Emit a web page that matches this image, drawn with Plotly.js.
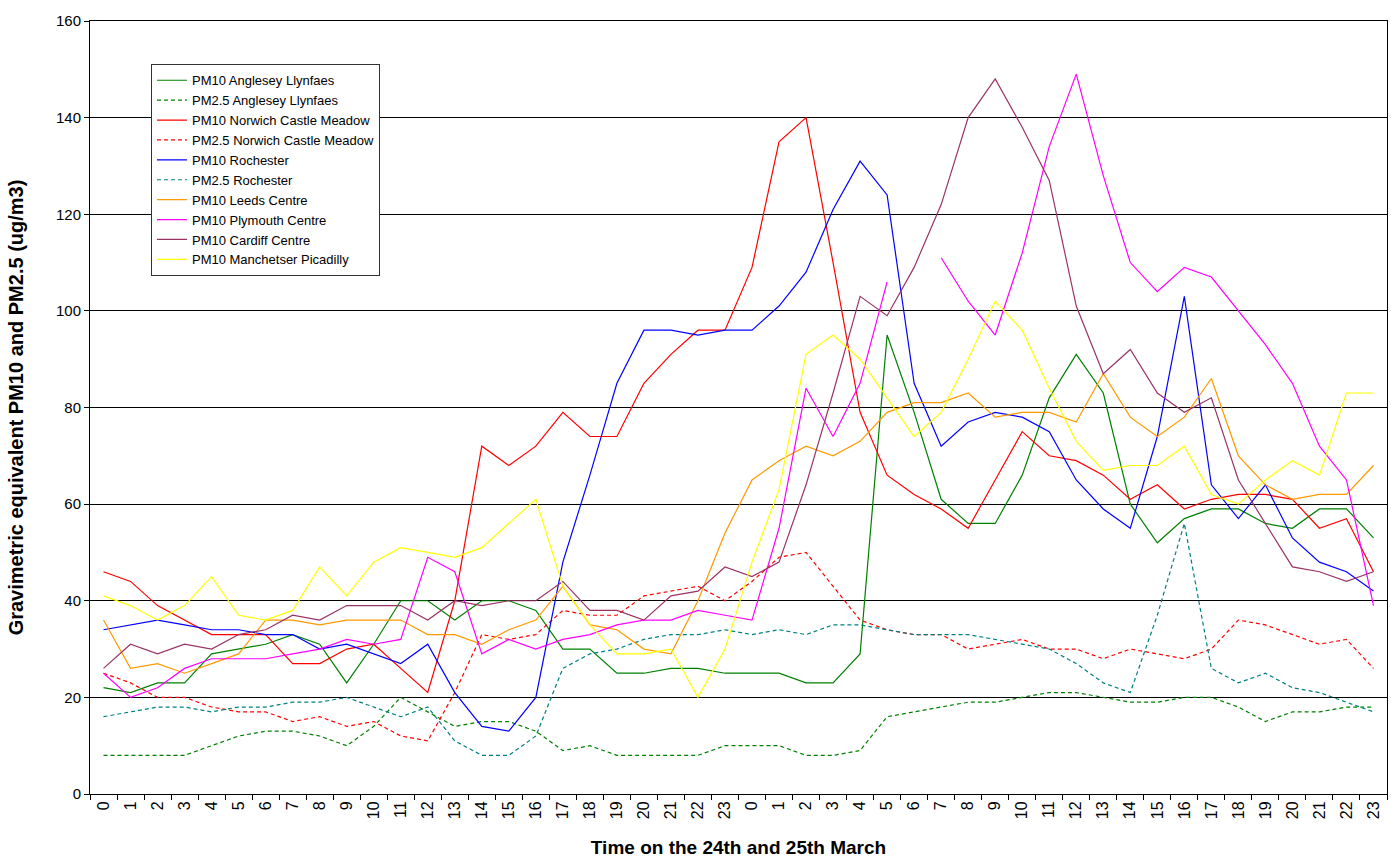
<!DOCTYPE html>
<html>
<head>
<meta charset="utf-8">
<script src="https://cdn.plot.ly/plotly-3.0.1.min.js"></script>
<style>
  body { margin: 0; background: #fff; }
  #chart { width: 1391px; height: 864px; }
</style>
</head>
<body>
<div id="chart"></div>
<script>
// hours for the 24th then the 25th March
var hours = ["0","1","2","3","4","5","6","7","8","9","10","11","12","13","14","15","16","17","18","19","20","21","22","23",
             "0","1","2","3","4","5","6","7","8","9","10","11","12","13","14","15","16","17","18","19","20","21","22","23"];

var angleseyPM10 = [22,21,23,23,29,30,31,33,31,23,31,40, 40,36,40,40,38,30,30,25,25,26,26,25,
                    25,25,23,23,29,95,79,61,56,56,66,82, 91,83,60,52,57,59,59,56,55,59,59,53];
var angleseyPM25 = [8,8,8,8,10,12,13,13,12,10,14,20, 17,14,15,15,13,9,10,8,8,8,8,10,
                    10,10,8,8,9,16,17,18,19,19,20,21, 21,20,19,19,20,20,18,15,17,17,18,18];
var norwichPM10 = [46,44,39,36,33,33,33,27,27,30,31,26, 21,40,72,68,72,79,74,74,85,91,96,96,
                   109,135,140,110,79,66,62,59,55,65,75,70, 69,66,61,64,59,61,62,62,61,55,57,46];
var norwichPM25 = [25,23,20,20,18,17,17,15,16,14,15,12, 11,21,33,32,33,38,37,37,41,42,43,40,
                   44,49,50,43,36,34,33,33,30,31,32,30, 30,28,30,29,28,30,36,35,33,31,32,26];
var rochesterPM10 = [34,35,36,35,34,34,33,33,30,31,29,27, 31,21,14,13,20,48,66,85,96,96,95,96,
                     96,101,108,121,131,124,85,72,77,79,78,75, 65,59,55,74,103,64,57,64,53,48,46,42];
var rochesterPM25 = [16,17,18,18,17,18,18,19,19,20,18,16, 18,11,8,8,12,26,29,30,32,33,33,34,
                     33,34,33,35,35,34,33,33,33,32,31,30, 27,23,21,37,56,26,23,25,22,21,19,17];
var leedsPM10 = [36,26,27,25,27,29,36,36,35,36,36,36, 33,33,31,34,36,43,35,34,30,29,40,54,
                 65,69,72,70,73,79,81,81,83,78,79,79, 77,87,78,74,78,86,70,64,61,62,62,68];
var plymouthPM10 = [25,20,22,26,28,28,28,29,30,32,31,32, 49,46,29,32,30,32,33,35,36,36,38,37,
                    36,55,84,74,85,106,null,111,102,95,112,134, 149,128,110,104,109,107,100,93,85,72,65,39];
var cardiffPM10 = [26,31,29,31,30,33,34,37,36,39,39,39, 36,40,39,40,40,44,38,38,36,41,42,47,
                   45,48,64,83,103,99,109,122,140,148,138,127, 101,87,92,83,79,82,65,56,47,46,44,46];
var manchesterPM10 = [41,39,36,39,45,37,36,38,47,41,48,51, 50,49,51,56,61,43,35,29,29,30,20,30,
                      48,63,91,95,90,82,74,79,90,102,96,84, 73,67,68,68,72,62,60,65,69,66,83,83];

// x positions: one slot per hour (labels repeat, so use the index)
var xs = hours.map(function(h, i) { return i; });

function line(name, y, color, dashed) {
    return {
        name: name,
        x: xs,
        y: y,
        type: "scatter",
        mode: "lines",
        connectgaps: false,
        line: { color: color, width: 1.2, dash: dashed ? "4px,3px" : "solid" }
    };
}

var data = [
    line("PM10 Anglesey Llynfaes", angleseyPM10, "#008000", false),
    line("PM2.5 Anglesey Llynfaes", angleseyPM25, "#008000", true),
    line("PM10 Norwich Castle Meadow", norwichPM10, "#FF0000", false),
    line("PM2.5 Norwich Castle Meadow", norwichPM25, "#FF0000", true),
    line("PM10 Rochester", rochesterPM10, "#0000FF", false),
    line("PM2.5 Rochester", rochesterPM25, "#008080", true),
    line("PM10 Leeds Centre", leedsPM10, "#FF9900", false),
    line("PM10 Plymouth Centre", plymouthPM10, "#FF00FF", false),
    line("PM10 Cardiff Centre", cardiffPM10, "#993366", false),
    line("PM10 Manchetser Picadilly", manchesterPM10, "#FFFF00", false)
];

var layout = {
    width: 1391,
    height: 864,
    margin: { l: 90, r: 4, t: 21, b: 70 },
    paper_bgcolor: "white",
    plot_bgcolor: "white",
    font: { family: "Liberation Sans, Arial, sans-serif", color: "#000" },
    showlegend: true,
    legend: {
        x: 0.047, y: 0.944, xanchor: "left", yanchor: "top",
        bgcolor: "white", bordercolor: "#333", borderwidth: 1,
        font: { size: 13, color: "#000" },
        tracegroupgap: 0
    },
    xaxis: {
        range: [-0.5, hours.length - 0.5],
        tickmode: "array",
        tickvals: xs,
        ticktext: hours,
        tickangle: -90,
        ticks: "",
        tickfont: { size: 16 },
        showgrid: false,
        zeroline: false,
        showline: true,
        linecolor: "#000",
        linewidth: 1,
        mirror: true,
        minor: { ticks: "outside", tick0: -0.5, dtick: 1, ticklen: 5, tickcolor: "#000", showgrid: false },
        title: { text: "<b>Time on the 24th and 25th March</b>", font: { size: 19 }, standoff: 22 }
    },
    yaxis: {
        range: [0, 160],
        dtick: 20,
        ticks: "outside",
        ticklen: 5,
        tickcolor: "#000",
        tickfont: { size: 15 },
        showgrid: true,
        gridcolor: "#000",
        gridwidth: 1,
        zeroline: false,
        showline: true,
        linecolor: "#000",
        linewidth: 1,
        mirror: true,
        title: { text: "<b>Gravimetric equivalent PM10 and PM2.5 (ug/m3)</b>", font: { size: 20 }, standoff: 26 }
    }
};

Plotly.newPlot("chart", data, layout, { displayModeBar: false, staticPlot: true });
</script>
</body>
</html>
